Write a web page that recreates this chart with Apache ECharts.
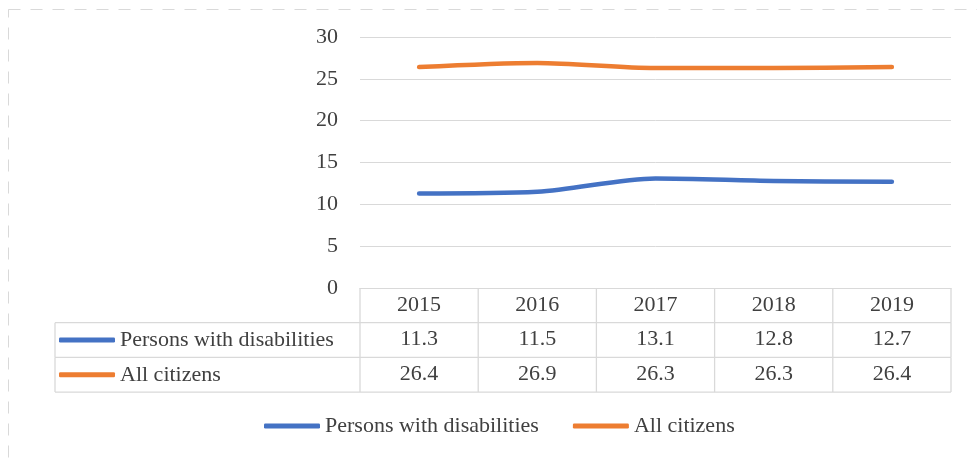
<!DOCTYPE html>
<html>
<head>
<meta charset="utf-8">
<script src="https://cdn.jsdelivr.net/npm/echarts@6/dist/echarts.min.js"></script>
<style>
html,body{margin:0;padding:0;background:#fff;}
#main{width:977px;height:458px;}
</style>
</head>
<body>
<div id="main"></div>
<script>
var categories = ['2015', '2016', '2017', '2018', '2019'];
var seriesNames = ['Persons with disabilities', 'All citizens'];
var disabled = [11.3, 11.5, 13.1, 12.8, 12.7];
var allCitizens = [26.4, 26.9, 26.3, 26.3, 26.4];
var colors = ['#4472C4', '#ED7D31'];
var yMin = 0, yMax = 30, yStep = 5;

var FONT = '"Liberation Serif","Times New Roman",serif';
var TXT = '#404040';
var GRID_LINE = '#d9d9d9';
var FS = 22;
var ROW_H = 34.7;

var chart = echarts.init(document.getElementById('main'), null, {renderer: 'canvas'});

function tableRowAxis(values, offset) {
  return {
    type: 'category',
    data: categories,
    position: 'bottom',
    offset: offset,
    boundaryGap: true,
    axisLine: {show: false},
    axisTick: {show: false},
    axisPointer: {show: false},
    axisLabel: {
      color: TXT, fontFamily: FONT, fontSize: FS, margin: 6, interval: 0,
      formatter: function (v, i) { return values[i].toFixed(1); }
    }
  };
}

var option = {
  animation: false,
  backgroundColor: '#fff',
  grid: {left: 360, right: 26, top: 37, bottom: 170, containLabel: false},
  xAxis: [
    {
      type: 'category',
      data: categories,
      boundaryGap: true,
      axisLine: {show: true, lineStyle: {color: GRID_LINE, width: 1}},
      axisTick: {show: false},
      axisLabel: {color: TXT, fontFamily: FONT, fontSize: FS, margin: 6, interval: 0}
    },
    tableRowAxis(disabled, ROW_H),
    tableRowAxis(allCitizens, ROW_H * 2)
  ],
  yAxis: {
    type: 'value',
    min: yMin, max: yMax, interval: yStep,
    axisLine: {show: false},
    axisTick: {show: false},
    axisLabel: {color: TXT, fontFamily: FONT, fontSize: FS, margin: 22},
    splitLine: {lineStyle: {color: GRID_LINE, width: 1}}
  },
  legend: [
    {
      left: 264,
      top: 415,
      padding: 0,
      itemWidth: 56,
      itemHeight: 5,
      itemGap: 34,
      icon: 'roundRect',
      textStyle: {color: TXT, fontFamily: FONT, fontSize: FS},
      data: seriesNames
    },
    {
      orient: 'vertical',
      left: 59,
      top: 288 + ROW_H + (ROW_H - 22) / 2,
      padding: 0,
      itemWidth: 56,
      itemHeight: 5,
      itemGap: ROW_H - 22,
      icon: 'roundRect',
      selectedMode: false,
      textStyle: {color: TXT, fontFamily: FONT, fontSize: FS, height: 22, lineHeight: 22},
      data: seriesNames
    }
  ],
  series: [
    {
      name: seriesNames[0], type: 'line', data: disabled,
      smooth: 0.3, symbol: 'none',
      itemStyle: {color: colors[0]},
      lineStyle: {color: colors[0], width: 4.5, cap: 'round', join: 'round'}
    },
    {
      name: seriesNames[1], type: 'line', data: allCitizens,
      smooth: 0.3, symbol: 'none',
      itemStyle: {color: colors[1]},
      lineStyle: {color: colors[1], width: 4.5, cap: 'round', join: 'round'}
    }
  ]
};
chart.setOption(option);

// Table grid lines, placed from the axis scale
(function buildTable() {
  var centers = categories.map(function (c, i) { return chart.convertToPixel({xAxisIndex: 0}, i); });
  var step = centers.length > 1 ? centers[1] - centers[0] : 118;
  var bounds = [centers[0] - step / 2];
  centers.forEach(function (c) { bounds.push(c + step / 2); });
  var axisY = chart.convertToPixel({yAxisIndex: 0}, yMin);
  var tableLeft = 55;
  var rightEdge = bounds[bounds.length - 1];

  var g = [];
  var n = 0;
  function line(x1, y1, x2, y2) {
    g.push({type: 'line', id: 'l' + (n++), silent: true, shape: {x1: x1, y1: y1, x2: x2, y2: y2},
      style: {stroke: GRID_LINE, lineWidth: 1.3}});
  }
  g.push({type: 'rect', id: 'frame', silent: true, shape: {x: 8.5, y: 9.5, width: 1000, height: 500},
    style: {fill: 'rgba(0,0,0,0)', stroke: '#d9d9d9', lineWidth: 1, lineDash: [12, 10]}});

  bounds.forEach(function (b) { line(b, axisY, b, axisY + ROW_H); });
  for (var r = 0; r < seriesNames.length; r++) {
    var y0 = axisY + ROW_H * (r + 1);
    var y1 = y0 + ROW_H;
    line(tableLeft, y0, rightEdge, y0);
    if (r === seriesNames.length - 1) line(tableLeft, y1, rightEdge, y1);
    line(tableLeft, y0, tableLeft, y1);
    bounds.forEach(function (b) { line(b, y0, b, y1); });
  }
  chart.setOption({graphic: {elements: g}});
})();
</script>
</body>
</html>
